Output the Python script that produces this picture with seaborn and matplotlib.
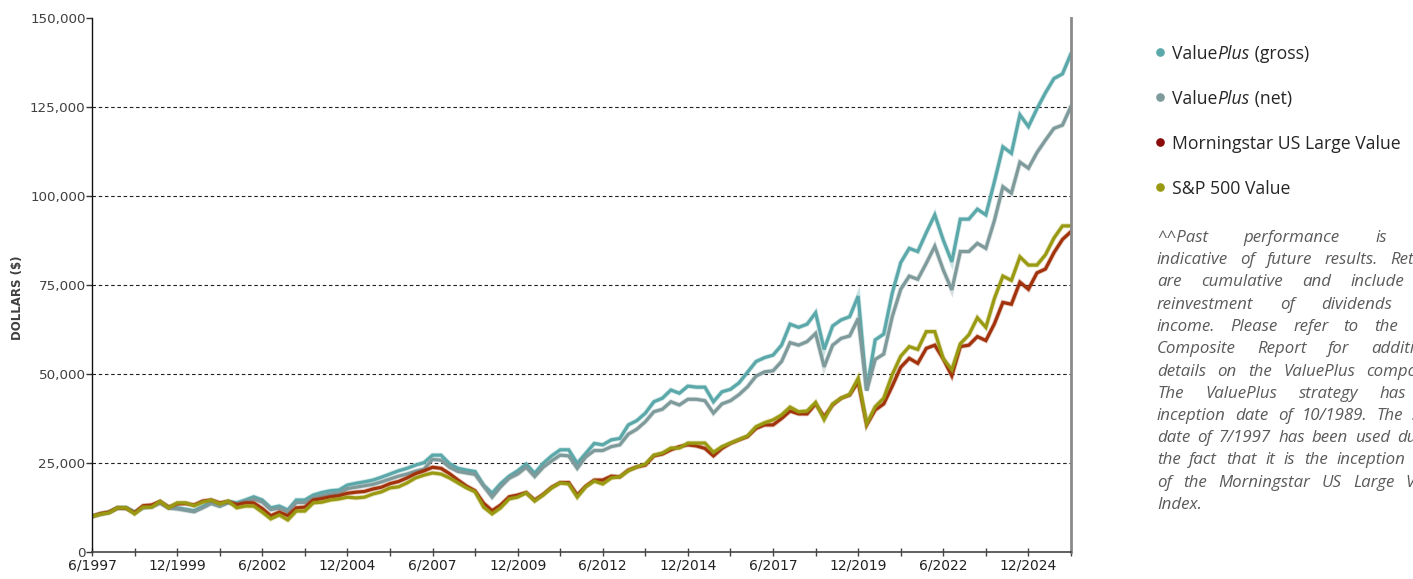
import numpy as np
import pandas as pd
import matplotlib
matplotlib.use("Agg")
import matplotlib.pyplot as plt
import matplotlib.patheffects as pe
from matplotlib.lines import Line2D
from matplotlib.ticker import FuncFormatter, FixedLocator
import seaborn as sns

# ---------------- data (growth of $10,000, in thousands of dollars, quarterly) ----------------
quarters = pd.period_range("1997Q2", "2026Q1", freq="Q")

series_names = ["ValuePlus (gross)", "ValuePlus (net)", "Morningstar US Large Value", "S&P 500 Value"]

gross = [10.0, 10.7, 11.2, 12.4, 12.5, 11.2, 12.6, 12.8, 14.0, 12.6,
         12.4, 12.0, 11.6, 12.8, 14.0, 13.2, 14.2, 13.8, 14.6, 15.5,
         14.6, 12.4, 12.9, 11.8, 14.6, 14.6, 16.0, 16.7, 17.2, 17.4,
         18.8, 19.3, 19.7, 20.2, 21.0, 21.9, 22.8, 23.5, 24.4, 25.1,
         27.2, 27.2, 24.8, 23.5, 23.0, 22.6, 18.8, 16.5, 19.2, 21.3,
         22.8, 24.7, 22.1, 24.9, 27.0, 28.7, 28.7, 24.9, 27.7, 30.5,
         30.1, 31.5, 31.9, 35.7, 36.9, 39.0, 42.2, 43.2, 45.5, 44.6,
         46.6, 46.3, 46.3, 42.2, 45.0, 45.7, 47.5, 50.5, 53.5, 54.6,
         55.3, 58.1, 64.0, 63.1, 64.0, 67.2, 56.9, 63.5, 65.2, 66.1,
         71.9, 45.5, 59.6, 61.2, 72.7, 81.3, 85.3, 84.4, 89.7, 94.7,
         87.6, 81.5, 93.5, 93.5, 96.3, 94.7, 104.0, 113.8, 112.0, 122.8,
         119.5, 124.5, 129.0, 133.0, 134.3, 140.0]

net = [10.0, 10.6, 11.1, 12.3, 12.3, 11.0, 12.4, 12.6, 13.7, 12.3,
       12.1, 11.7, 11.3, 12.4, 13.6, 12.8, 13.8, 13.3, 14.1, 14.9,
       14.0, 11.9, 12.3, 11.3, 13.9, 13.9, 15.2, 15.8, 16.3, 16.5,
       17.8, 18.2, 18.6, 19.0, 19.7, 20.5, 21.3, 21.9, 22.7, 23.3,
       26.0, 25.8, 23.8, 22.6, 22.2, 21.8, 18.5, 15.4, 18.3, 20.7,
       21.9, 23.8, 21.2, 23.8, 25.6, 27.2, 27.0, 23.5, 26.7, 28.5,
       28.5, 29.6, 30.1, 33.1, 34.5, 36.6, 39.4, 40.1, 42.2, 41.3,
       42.9, 42.9, 42.5, 39.0, 41.6, 42.5, 44.2, 46.4, 49.4, 50.6,
       50.9, 53.5, 58.8, 58.1, 59.1, 61.4, 52.0, 58.1, 60.0, 60.7,
       65.6, 45.3, 54.1, 55.6, 66.1, 73.8, 77.5, 76.6, 81.1, 85.9,
       79.2, 73.6, 84.4, 84.4, 86.7, 85.3, 93.1, 102.6, 100.8, 109.5,
       107.8, 112.2, 115.7, 119.0, 119.9, 125.2]

morningstar = [10.0, 10.8, 11.2, 12.4, 12.3, 11.0, 13.0, 13.2, 14.2, 12.6,
               13.5, 13.6, 13.2, 14.3, 14.6, 13.8, 14.2, 13.3, 13.8, 13.8,
               12.2, 10.2, 11.2, 10.2, 12.4, 12.6, 14.6, 15.0, 15.5, 15.8,
               16.5, 16.8, 17.0, 17.7, 18.2, 19.2, 19.8, 20.8, 22.0, 22.8,
               23.8, 23.5, 22.0, 20.2, 18.5, 17.2, 13.7, 11.6, 13.2, 15.5,
               16.0, 16.7, 14.6, 16.2, 18.2, 19.5, 19.5, 16.0, 18.5, 20.2,
               20.2, 21.3, 21.1, 23.0, 23.9, 24.4, 27.0, 27.5, 28.7, 29.6,
               30.1, 29.8, 29.1, 27.0, 29.1, 30.5, 31.5, 32.4, 34.7, 35.7,
               35.7, 37.5, 39.6, 38.8, 38.8, 41.6, 38.0, 41.3, 43.2, 44.1,
               47.8, 35.7, 39.9, 41.6, 46.6, 51.9, 54.4, 53.0, 57.2, 58.1,
               54.2, 49.5, 57.7, 58.1, 60.5, 59.4, 64.1, 70.1, 69.6, 75.8,
               73.8, 78.4, 79.5, 84.1, 87.8, 90.0]

sp500_value = [10.0, 10.6, 11.0, 12.4, 12.4, 10.7, 12.6, 12.6, 14.2, 12.4,
               13.8, 13.8, 13.0, 14.0, 14.6, 13.5, 14.3, 12.4, 12.9, 12.9,
               11.2, 9.3, 10.4, 9.0, 11.5, 11.5, 13.8, 14.0, 14.6, 14.9,
               15.4, 15.2, 15.4, 16.3, 16.9, 18.0, 18.3, 19.4, 20.8, 21.6,
               22.2, 21.9, 20.8, 19.4, 18.0, 16.9, 12.6, 10.7, 12.4, 14.9,
               15.4, 16.6, 14.3, 16.0, 18.0, 19.4, 19.1, 15.4, 18.3, 19.9,
               19.1, 20.8, 21.1, 22.8, 23.9, 24.7, 27.2, 27.8, 29.2, 29.2,
               30.6, 30.6, 30.6, 28.0, 29.6, 30.6, 31.6, 32.6, 35.2, 36.3,
               37.1, 38.5, 40.7, 39.4, 39.6, 42.0, 37.2, 41.6, 43.2, 44.3,
               48.8, 36.0, 40.8, 43.2, 49.8, 55.0, 57.7, 56.9, 61.9, 61.9,
               54.3, 51.2, 58.5, 61.0, 65.8, 63.1, 71.2, 77.5, 76.3, 82.9,
               80.6, 80.6, 83.5, 88.2, 91.6, 91.6]

x_tick_labels = ["6/1997", "12/1999", "6/2002", "12/2004", "6/2007", "12/2009",
                 "6/2012", "12/2014", "6/2017", "12/2019", "6/2022", "12/2024"]
y_ticks = [0, 25000, 50000, 75000, 100000, 125000, 150000]

# legend labels as (text, italic?) pieces
legend_pieces = [
    [("Value", False), ("Plus", True), (" (gross)", False)],
    [("Value", False), ("Plus", True), (" (net)", False)],
    [("Morningstar US Large Value", False)],
    [("S&P 500 Value", False)],
]

footnote_lines = [
    "^^Past performance is not",
    "indicative of future results. Returns",
    "are cumulative and include the",
    "reinvestment of dividends and",
    "income. Please refer to the GIPS",
    "Composite Report for additional",
    "details on the ValuePlus composite.",
    "The ValuePlus strategy has an",
    "inception date of 10/1989. The start",
    "date of 7/1997 has been used due to",
    "the fact that it is the inception date",
    "of the Morningstar US Large Value",
    "Index.",
]

# ---------------- styling ----------------
line_colors = ["#5aa8a9", "#7f9a9b", "#a2320c", "#9a9a12"]
dot_colors = ["#5aa8a9", "#7f9a9b", "#8b0b0b", "#9a9a12"]

sns.set_style("white")
plt.rcParams["font.family"] = ["DejaVu Sans"]

# ---------------- build frame ----------------
t = np.asarray(quarters.year + quarters.quarter * 0.25, dtype=float)
frames = []
for name, vals in zip(series_names, [gross, net, morningstar, sp500_value]):
    frames.append(pd.DataFrame({"t": t, "value": np.asarray(vals) * 1000.0, "series": name}))
df = pd.concat(frames, ignore_index=True)

W, H = 1413, 579
fig = plt.figure(figsize=(W / 100, H / 100), dpi=100)
ax = fig.add_axes([92 / W, 1 - 552 / H, (1071 - 92) / W, (552 - 18) / H])

sns.lineplot(data=df, x="t", y="value", hue="series", hue_order=series_names,
             palette=dict(zip(series_names, line_colors)), linewidth=2.3,
             legend=False, ax=ax, sort=False)
for ln, c in zip(ax.get_lines(), line_colors):
    ln.set_path_effects([pe.Stroke(linewidth=3.5, foreground=c, alpha=0.3), pe.Normal()])
    ln.set_solid_joinstyle("miter")

ax.set_xlim(1997.5, 2026.25)
ax.set_ylim(0, 150000)

major_x = [1997.5 + 2.5 * k for k in range(len(x_tick_labels))]
minor_x = [1998.75 + 2.5 * k for k in range(len(x_tick_labels))]
ax.xaxis.set_major_locator(FixedLocator(major_x))
ax.xaxis.set_minor_locator(FixedLocator(minor_x))
ax.set_xticklabels(x_tick_labels)
ax.tick_params(axis="x", which="both", direction="inout", length=6, width=1,
               color="#444444", labelsize=10, labelcolor="#222222", pad=2, bottom=True)

ax.yaxis.set_major_locator(FixedLocator(y_ticks))
ax.yaxis.set_major_formatter(FuncFormatter(lambda v, p: f"{int(v):,}"))
ax.tick_params(axis="y", which="major", direction="out", length=4.3, width=1,
               color="#333333", labelsize=9.7, labelcolor="#404040", pad=0.3, left=True)

ax.set_xlabel("")
ax.set_ylabel("DOLLARS ($)", fontsize=8.5, color="#404040", fontweight="bold")
ax.yaxis.set_label_coords(-0.0695, 0.476)

ax.yaxis.grid(True, color="#222222", linestyle=(0, (3.2, 2.4)), linewidth=0.8)
ax.xaxis.grid(False)
gl = ax.get_ygridlines()
gl[0].set_visible(False)
gl[-1].set_visible(False)

ax.spines["top"].set_visible(False)
ax.spines["left"].set_color("#111111")
ax.spines["left"].set_linewidth(1.0)
ax.spines["bottom"].set_color("#444444")
ax.spines["bottom"].set_linewidth(1.2)
ax.spines["right"].set_color("#8a8a8a")
ax.spines["right"].set_linewidth(2.0)

fig.canvas.draw()
renderer = fig.canvas.get_renderer()


def text_width(s, **kw):
    tt = fig.text(0, 0, s, **kw)
    w = tt.get_window_extent(renderer).width
    tt.remove()
    return w


# ---------------- legend (dots + labels) ----------------
leg_font = dict(family="Open Sans", size=12.7, color="#262626")
for k, (pieces, c) in enumerate(zip(legend_pieces, dot_colors)):
    yc = 52 + 45 * k
    fig.add_artist(Line2D([1160 / W], [1 - yc / H], transform=fig.transFigure,
                          linestyle="none", marker="o", markersize=5.2,
                          markerfacecolor=c, markeredgecolor=c))
    xpos = 1172
    for txt, ital in pieces:
        kw = dict(leg_font, style="italic" if ital else "normal")
        fig.text(xpos / W, 1 - yc / H, txt, ha="left", va="center_baseline", **kw)
        xpos += text_width(txt, **kw)

# ---------------- justified italic footnote ----------------
note_font = dict(family="Open Sans", style="italic", size=12.2, color="#5a5a5a")
x0, box_w = 1157, 290
y_first, dy = 238, 22.25

space_w = text_width("a a", **note_font) - text_width("aa", **note_font)
for k, line in enumerate(footnote_lines):
    words = line.split(" ")
    y = 1 - (y_first + k * dy) / H
    widths = [text_width(wd, **note_font) for wd in words]
    last = k == len(footnote_lines) - 1
    if last or len(words) == 1:
        gap = space_w
    else:
        gap = max(space_w, (box_w - sum(widths)) / (len(words) - 1))
    xpos = x0
    for wd, wdt in zip(words, widths):
        fig.text(xpos / W, y, wd, ha="left", va="center", **note_font)
        xpos += wdt + gap

fig.savefig("out.png", dpi=100)
